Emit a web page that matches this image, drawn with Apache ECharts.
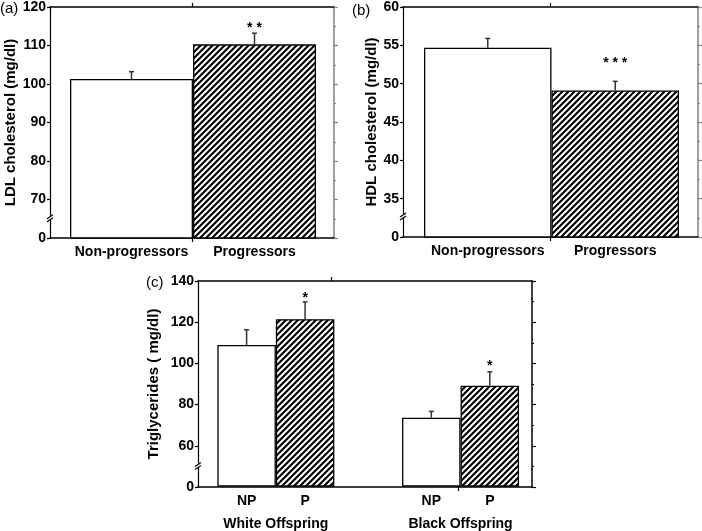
<!DOCTYPE html>
<html><head><meta charset="utf-8">
<script src="https://cdn.jsdelivr.net/npm/echarts@6/dist/echarts.min.js"></script>
<style>html,body{margin:0;padding:0;background:#fff}#c{width:702px;height:531px}</style>
</head><body><div id="c"></div>
<script>
// ---------- data ----------
const groupsAB = ['Non-progressors', 'Progressors'];
const ldlMean = [101.3, 110.3];
const ldlErr = [1.9, 2.9];
const ldlStarText = ['', '* *'];
const ldlStarAt = [null, 115.3];
const ldlTickValues = [60, 70, 80, 90, 100, 110, 120];
const ldlTickLabels = ['0', '70', '80', '90', '100', '110', '120'];
const ldlBreakAt = 65;

const hdlMean = [54.7, 49.1];
const hdlErr = [1.2, 1.2];
const hdlStarText = ['', '* * *'];
const hdlStarAt = [null, 53.1];
const hdlTickValues = [30, 35, 40, 45, 50, 55, 60];
const hdlTickLabels = ['0', '35', '40', '45', '50', '55', '60'];
const hdlBreakAt = 32.6;

const groupsC = ['White Offspring', 'Black Offspring'];
const subC = ['NP', 'P'];
const tgNP = [108.8, 73.3];
const tgNPErr = [7.4, 3.1];
const tgP = [121.4, 88.9];
const tgPErr = [8.4, 6.8];
const tgStarText = ['*', '*'];
const tgStarAt = [133.1, 99.9];
const tgTickValues = [40, 60, 80, 100, 120, 140];
const tgTickLabels = ['0', '60', '80', '100', '120', '140'];
const tgBreakAt = 50;

// ---------- style ----------
const FONT = '"Liberation Sans", Arial, Helvetica, sans-serif';
const BAR_W_C = 58.5;
const STAR_DY = 3;

function hatchCanvas() {
  const s = 6;
  const c = document.createElement('canvas');
  c.width = s; c.height = s;
  const g = c.getContext('2d');
  g.fillStyle = '#fff'; g.fillRect(0, 0, s, s);
  g.strokeStyle = '#000'; g.lineWidth = 2.1;
  g.beginPath();
  for (const k of [-s, 0, s]) { g.moveTo(k - 1, s + 1); g.lineTo(k + s + 1, -1); }
  g.stroke();
  return c;
}
const HATCH = { image: hatchCanvas(), repeat: 'repeat' };
const WHITE = '#ffffff';

const grids = [], xAxes = [], yAxes = [], series = [];

function labelFor(values, labels) {
  return v => { const i = values.indexOf(v); return i >= 0 ? labels[i] : ''; };
}

function addFrame(box, yMin, yMax, yInt, minorSplit, tVals, tLabs, name, nameGap, topTick, botTick, rightColor, breakAt) {
  const gi = grids.length;
  grids.push(Object.assign({ containLabel: false }, box));
  const xi = xAxes.length, yi = yAxes.length;
  xAxes.push({ gridIndex: gi, type: 'value', position: 'bottom', min: 0, max: 1,
    axisLine: { show: true, onZero: false, lineStyle: { color: '#000', width: 1.5 } },
    axisTick: { show: true, length: 4, customValues: [botTick], lineStyle: { color: '#000', width: 1.2 } },
    axisLabel: { show: false }, splitLine: { show: false } });
  xAxes.push({ gridIndex: gi, type: 'value', position: 'top', min: 0, max: 1,
    axisLine: { show: true, onZero: false, lineStyle: { color: '#000', width: 1.5 } },
    axisTick: { show: true, length: 4, customValues: [topTick], lineStyle: { color: '#000', width: 1.2 } },
    axisLabel: { show: false }, splitLine: { show: false } });
  yAxes.push({ gridIndex: gi, type: 'value', position: 'left', min: yMin, max: yMax, interval: yInt,
    name: name, nameLocation: 'middle', nameGap: nameGap,
    nameTextStyle: { fontFamily: FONT, fontWeight: 'bold', fontSize: 15, color: '#000' },
    axisLine: { show: true, onZero: false, lineStyle: { color: '#000', width: 1.2 } },
    axisTick: { show: true, length: 3, lineStyle: { color: '#000', width: 1.2 } },
    axisLabel: { show: true, margin: 4, fontFamily: FONT, fontWeight: 'bold', fontSize: 14, color: '#000',
      formatter: labelFor(tVals, tLabs) },
    splitLine: { show: false } });
  yAxes.push({ gridIndex: gi, type: 'value', position: 'right', min: yMin, max: yMax, interval: yInt,
    axisLine: { show: true, onZero: false, lineStyle: { color: rightColor, width: 1.5 } },
    axisTick: { show: true, length: 4, lineStyle: { color: rightColor, width: 1.2 } },
    minorTick: { show: true, splitNumber: minorSplit, length: 2, lineStyle: { color: rightColor, width: 1.2 } },
    axisLabel: { show: false }, splitLine: { show: false } });
  series.push({ type: 'custom', xAxisIndex: xi, yAxisIndex: yi, silent: true, z: 10,
    data: [[0, breakAt]],
    renderItem: (p, api) => {
      const c = api.coord([api.value(0), api.value(1)]);
      return { type: 'group', children: [
        { type: 'rect', shape: { x: c[0] - 1.5, y: c[1] - 3, width: 3, height: 4 }, style: { fill: '#fff' } },
        { type: 'line', shape: { x1: c[0] - 3, y1: c[1] + 0, x2: c[0] + 3, y2: c[1] - 4 }, style: { stroke: '#000', lineWidth: 1.2 } },
        { type: 'line', shape: { x1: c[0] - 3, y1: c[1] + 3, x2: c[0] + 3, y2: c[1] - 1 }, style: { stroke: '#000', lineWidth: 1.2 } }
      ] };
    } });
}

function addInner(box, yMin, yMax, cats, labelMargin) {
  const gi = grids.length;
  grids.push(Object.assign({ containLabel: false }, box));
  const xi = xAxes.length, yi = yAxes.length;
  xAxes.push({ gridIndex: gi, type: 'category', data: cats, position: 'bottom',
    axisLine: { show: false, onZero: false }, axisTick: { show: false },
    axisLabel: { show: true, margin: labelMargin, fontFamily: FONT, fontWeight: 'bold', fontSize: 14, color: '#000', interval: 0 } });
  yAxes.push({ gridIndex: gi, type: 'value', min: yMin, max: yMax, show: false });
  return { xi, yi };
}

function errRender(offset) {
  return (p, api) => {
    const x = api.value(0);
    const a = api.coord([x, api.value(1)]);
    const b = api.coord([x, api.value(2)]);
    const px = a[0] + offset;
    return { type: 'group', children: [
      { type: 'line', shape: { x1: px, y1: a[1], x2: px, y2: b[1] }, style: { stroke: '#333', lineWidth: 1.5 } },
      { type: 'line', shape: { x1: px - 2.5, y1: b[1], x2: px + 2.5, y2: b[1] }, style: { stroke: '#333', lineWidth: 1.5 } }
    ] };
  };
}
function starRender(texts, offset) {
  return (p, api) => {
    const c = api.coord([api.value(0), api.value(1)]);
    return { type: 'text', x: c[0] + offset, y: c[1] + STAR_DY,
      style: { text: texts[p.dataIndex], fontFamily: FONT, fontWeight: 'bold', fontSize: 14, fill: '#000',
        align: 'center', verticalAlign: 'middle' } };
  };
}
function starData(at) {
  const d = [];
  at.forEach((v, i) => { if (v != null) d.push([i, v]); });
  return d;
}

// ---------- panel (a) ----------
addFrame({ left: 50, top: 7, width: 284, height: 231 }, 60, 120, 10, 2, ldlTickValues, ldlTickLabels,
  'LDL cholesterol (mg/dl)', 32, 0.5, 0.5, '#808080', ldlBreakAt);
let ia = addInner({ left: 70, top: 7, width: 246, height: 231 }, 60, 120, groupsAB, 7);
series.push({ type: 'bar', xAxisIndex: ia.xi, yAxisIndex: ia.yi, barCategoryGap: '0%',
  data: ldlMean.map((v, i) => ({ value: v, itemStyle: { color: i === 0 ? WHITE : HATCH } })),
  itemStyle: { borderColor: '#000', borderWidth: 1.3 } });
series.push({ type: 'custom', xAxisIndex: ia.xi, yAxisIndex: ia.yi, z: 5,
  data: ldlMean.map((v, i) => [i, v, v + ldlErr[i]]), renderItem: errRender(0) });
series.push({ type: 'custom', xAxisIndex: ia.xi, yAxisIndex: ia.yi, z: 5,
  data: starData(ldlStarAt), renderItem: starRender(ldlStarText.filter(t => t), 0) });

// ---------- panel (b) ----------
addFrame({ left: 403, top: 7, width: 295, height: 230 }, 30, 60, 5, 2, hdlTickValues, hdlTickLabels,
  'HDL cholesterol (mg/dl)', 23, 0.5, 0.5, '#808080', hdlBreakAt);
let ib = addInner({ left: 424, top: 7, width: 255, height: 230 }, 30, 60, groupsAB, 7);
series.push({ type: 'bar', xAxisIndex: ib.xi, yAxisIndex: ib.yi, barCategoryGap: '0%',
  data: hdlMean.map((v, i) => ({ value: v, itemStyle: { color: i === 0 ? WHITE : HATCH } })),
  itemStyle: { borderColor: '#000', borderWidth: 1.3 } });
series.push({ type: 'custom', xAxisIndex: ib.xi, yAxisIndex: ib.yi, z: 5,
  data: hdlMean.map((v, i) => [i, v, v + hdlErr[i]]), renderItem: errRender(0) });
series.push({ type: 'custom', xAxisIndex: ib.xi, yAxisIndex: ib.yi, z: 5,
  data: starData(hdlStarAt), renderItem: starRender(hdlStarText.filter(t => t), 0) });

// ---------- panel (c) ----------
addFrame({ left: 198, top: 281, width: 334, height: 206 }, 40, 140, 20, 2, tgTickValues, tgTickLabels,
  'Triglycerides ( mg/dl)', 37, 0.40, 0.78, '#000', tgBreakAt);
let ic = addInner({ left: 183.5, top: 281, width: 369.4, height: 206 }, 40, 140, groupsC, 31);
series.push({ type: 'bar', name: subC[0], xAxisIndex: ic.xi, yAxisIndex: ic.yi, barWidth: BAR_W_C, barGap: '0%',
  data: tgNP, itemStyle: { color: WHITE, borderColor: '#000', borderWidth: 1.3 } });
series.push({ type: 'bar', name: subC[1], xAxisIndex: ic.xi, yAxisIndex: ic.yi, barWidth: BAR_W_C, barGap: '0%',
  data: tgP, itemStyle: { color: HATCH, borderColor: '#000', borderWidth: 1.3 } });
series.push({ type: 'custom', xAxisIndex: ic.xi, yAxisIndex: ic.yi, z: 5,
  data: tgNP.map((v, i) => [i, v, v + tgNPErr[i]]), renderItem: errRender(-BAR_W_C / 2) });
series.push({ type: 'custom', xAxisIndex: ic.xi, yAxisIndex: ic.yi, z: 5,
  data: tgP.map((v, i) => [i, v, v + tgPErr[i]]), renderItem: errRender(BAR_W_C / 2) });
series.push({ type: 'custom', xAxisIndex: ic.xi, yAxisIndex: ic.yi, z: 5,
  data: starData(tgStarAt), renderItem: starRender(tgStarText, BAR_W_C / 2) });
// NP / P sub-labels under each bar
series.push({ type: 'custom', xAxisIndex: ic.xi, yAxisIndex: ic.yi, z: 5, clip: false,
  data: groupsC.map((g, i) => [i, 40]),
  renderItem: (p, api) => {
    const c = api.coord([api.value(0), api.value(1)]);
    return { type: 'group', children: subC.map((t, k) => ({ type: 'text', x: c[0] + (k === 0 ? -1 : 1) * BAR_W_C / 2, y: c[1] + 15,
      style: { text: t, fontFamily: FONT, fontWeight: 'bold', fontSize: 14, fill: '#000', align: 'center', verticalAlign: 'middle' } })) };
  } });

const titleStyle = { fontFamily: FONT, fontWeight: 'normal', fontSize: 15, color: '#000' };
const option = {
  animation: false,
  backgroundColor: '#fff',
  title: [
    { text: '(a)', left: 0, top: 1, padding: 0, textStyle: titleStyle },
    { text: '(b)', left: 352, top: 3, padding: 0, textStyle: titleStyle },
    { text: '(c)', left: 146, top: 275, padding: 0, textStyle: titleStyle }
  ],
  grid: grids, xAxis: xAxes, yAxis: yAxes, series: series
};
const chart = echarts.init(document.getElementById('c'), null, { renderer: 'canvas' });
chart.setOption(option);
</script></body></html>
